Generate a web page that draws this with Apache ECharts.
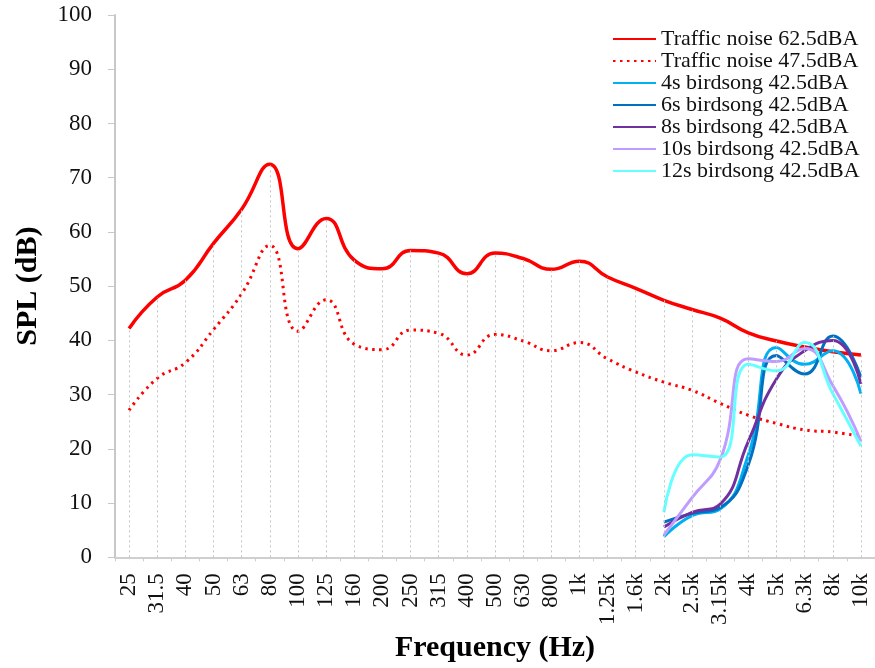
<!DOCTYPE html>
<html>
<head>
<meta charset="utf-8">
<script src="https://cdn.jsdelivr.net/npm/echarts@6/dist/echarts.min.js"></script>
<style>html,body{margin:0;padding:0;background:#fff}#c{width:875px;height:668px}</style>
</head>
<body>
<div id="c"></div>
<script>
var categories = ['25','31.5','40','50','63','80','100','125','160','200','250','315','400','500','630','800','1k','1.25k','1.6k','2k','2.5k','3.15k','4k','5k','6.3k','8k','10k'];
var yTicks = [0,10,20,30,40,50,60,70,80,90,100];
var traffic625 = [42.2,48.0,51.1,57.9,64.2,72.5,56.9,62.5,54.8,53.2,56.6,56.1,52.3,56.1,55.1,53.1,54.6,51.7,49.6,47.4,45.7,44.1,41.4,39.9,38.8,37.9,37.3];
var traffic475 = [27.1,33.0,35.9,42.0,48.6,57.5,41.7,47.5,39.3,38.3,41.9,41.3,37.3,41.1,39.9,38.1,39.6,36.6,34.2,32.3,30.8,28.4,26.2,24.7,23.5,23.1,22.3];
var pad = [null,null,null,null,null,null,null,null,null,null,null,null,null,null,null,null,null,null,null];
var bird4s  = pad.concat([3.8,7.7,8.9,18.9,38.7,35.6,38.1,30.2]);
var bird6s  = pad.concat([6.5,8.1,9.2,17.1,37.2,33.8,40.8,33.2]);
var bird8s  = pad.concat([5.6,8.3,9.8,21.4,32.9,38.1,40.0,32.0]);
var bird10s = pad.concat([4.1,11.0,18.0,36.6,36.1,38.5,31.7,21.4]);
var bird12s = pad.concat([8.3,18.9,18.5,35.6,34.4,39.6,30.2,20.5]);
var names = ['Traffic noise 62.5dBA','Traffic noise 47.5dBA','4s birdsong 42.5dBA','6s birdsong 42.5dBA','8s birdsong 42.5dBA','10s birdsong 42.5dBA','12s birdsong 42.5dBA'];

var allSeries = [traffic625, traffic475, bird4s, bird6s, bird8s, bird10s, bird12s];
var dropData = categories.map(function (c, i) {
  var m = 0;
  allSeries.forEach(function (s) { if (s[i] != null && s[i] > m) m = s[i]; });
  return [{coord: [c, 0]}, {coord: [c, m]}];
});

var FONT = 'Liberation Serif';
var chart = echarts.init(document.getElementById('c'));
function lineSeries(name, data, color, width, dash) {
  return {
    name: name, type: 'line', data: data, smooth: 0.5, symbol: 'none', connectNulls: false,
    lineStyle: {color: color, width: width, type: dash || 'solid', cap: 'butt'},
    itemStyle: {color: color}, z: 3
  };
}
chart.setOption({
  animation: false,
  backgroundColor: '#fff',
  grid: {left: 115, top: 15, width: 761, bottom: 104},
  legend: {
    data: names, orient: 'vertical', left: 607, top: 23, itemWidth: 43, itemHeight: 12, itemGap: 0,
    itemStyle: {opacity: 0},
    textStyle: {fontFamily: FONT, fontSize: 22, color: '#111', lineHeight: 22}
  },
  xAxis: {
    type: 'category', data: categories, boundaryGap: true,
    axisLine: {lineStyle: {color: '#cfcfcf', width: 2}},
    axisTick: {show: true, length: 4, lineStyle: {color: '#cfcfcf'}},
    axisLabel: {rotate: 90, interval: 0, fontFamily: FONT, fontSize: 23, color: '#111', margin: 16},
    splitLine: {show: false},
    name: 'Frequency (Hz)', nameLocation: 'middle', nameGap: 64,
    nameTextStyle: {fontFamily: FONT, fontSize: 30, fontWeight: 'bold', color: '#000'}
  },
  yAxis: {
    type: 'value', min: yTicks[0], max: yTicks[yTicks.length - 1], interval: 10,
    axisLine: {show: true, lineStyle: {color: '#c8c8c8', width: 2}},
    axisTick: {show: true, length: 7, lineStyle: {color: '#c8c8c8'}},
    axisLabel: {fontFamily: FONT, fontSize: 23, color: '#111', margin: 23},
    splitLine: {show: false},
    name: 'SPL (dB)', nameLocation: 'middle', nameGap: 72,
    nameTextStyle: {fontFamily: FONT, fontSize: 30, fontWeight: 'bold', color: '#000'}
  },
  series: [
    {
      name: 'drop', type: 'line', data: [], silent: true, z: 1,
      markLine: {
        silent: true, symbol: ['none', 'none'], label: {show: false},
        lineStyle: {color: '#c4c4c4', width: 1, type: [2, 3]},
        data: dropData
      }
    },
    lineSeries(names[0], traffic625, '#ff0000', 3.5),
    lineSeries(names[1], traffic475, '#ff0000', 3, [2.5, 4.5]),
    lineSeries(names[2], bird4s, '#00b0f0', 3),
    lineSeries(names[3], bird6s, '#0070c0', 3),
    lineSeries(names[4], bird8s, '#7030a0', 3),
    lineSeries(names[5], bird10s, '#bf9cff', 3),
    lineSeries(names[6], bird12s, '#66ffff', 3)
  ]
});
</script>
</body>
</html>
